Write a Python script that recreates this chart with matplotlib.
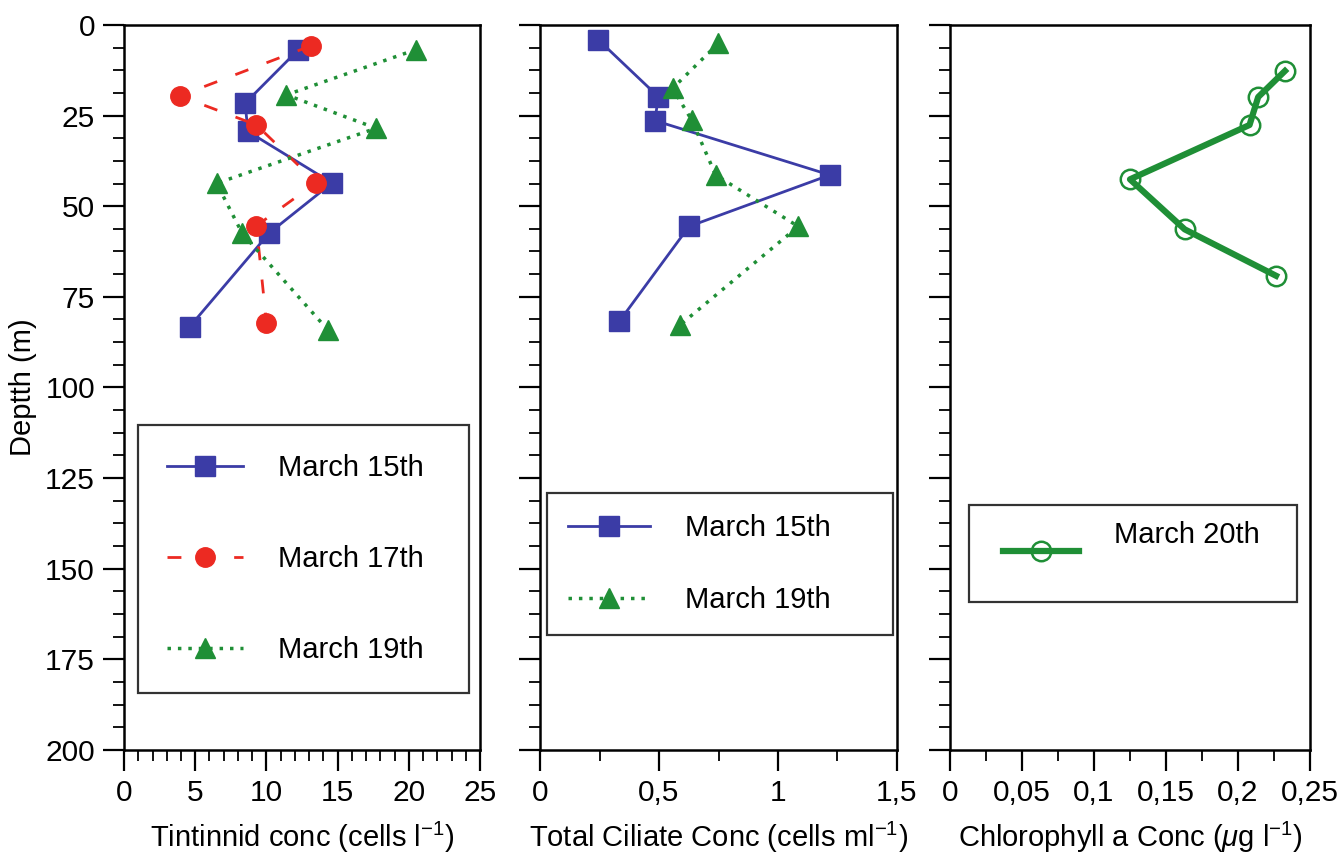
import matplotlib
matplotlib.use("Agg")
import matplotlib.pyplot as plt
from matplotlib.ticker import MultipleLocator

plt.rcParams['font.family'] = ['Liberation Sans', 'DejaVu Sans']
plt.rcParams['mathtext.fontset'] = 'custom'
plt.rcParams['mathtext.rm'] = 'Liberation Sans'
plt.rcParams['mathtext.it'] = 'Liberation Sans:italic'

# Tintinnid concentration (cells l-1) vs depth (m)
tin_d15 = [7, 21.6, 29.4, 43.6, 57.4, 83.3]
tin_15 = [12.2, 8.5, 8.7, 14.6, 10.2, 4.6]
tin_d17 = [5.8, 19.6, 27.6, 43.5, 55.4, 82.3]
tin_17 = [13.1, 3.9, 9.3, 13.5, 9.3, 10.0]
tin_d19 = [6.8, 19.3, 28.5, 43.7, 57.5, 84.1]
tin_19 = [20.5, 11.4, 17.7, 6.5, 8.3, 14.3]

# Total ciliate concentration (cells ml-1)
cil_d15 = [4.1, 19.8, 26.4, 41.4, 55.6, 81.8]
cil_15 = [0.245, 0.497, 0.483, 1.218, 0.626, 0.333]
cil_d19 = [5.1, 17.5, 26.2, 41.4, 55.6, 82.8]
cil_19 = [0.749, 0.557, 0.637, 0.738, 1.085, 0.588]

# Chlorophyll a (ug l-1)
chl_d20 = [12.7, 19.9, 27.6, 42.6, 56.4, 69.2]
chl_20 = [0.2326, 0.214, 0.208, 0.125, 0.163, 0.2264]

ylabels_depth = ['0', '25', '50', '75', '100', '125', '150', '175', '200']
xt1 = ['0', '5', '10', '15', '20', '25']
xt2 = ['0', '0,5', '1', '1,5']
xt3 = ['0', '0,05', '0,1', '0,15', '0,2', '0,25']

BLUE = '#3b3ca6'
RED = '#ec2a22'
GREEN = '#1f8f36'
FS = 21

fig = plt.figure(figsize=(13.41, 8.59), dpi=100)
ax1 = fig.add_axes([0.0925, 0.127, 0.2655, 0.844])
ax2 = fig.add_axes([0.4027, 0.127, 0.2662, 0.844])
ax3 = fig.add_axes([0.7084, 0.127, 0.2685, 0.844])


def style(ax, xmax, xmajor, xminor, xlabels):
    ax.set_xlim(0, xmax)
    ax.set_ylim(200, 0)
    ax.xaxis.set_major_locator(MultipleLocator(xmajor))
    ax.xaxis.set_minor_locator(MultipleLocator(xminor))
    ax.set_xticks([i * xmajor for i in range(len(xlabels))])
    ax.set_xticklabels(xlabels)
    ax.yaxis.set_major_locator(MultipleLocator(25))
    ax.yaxis.set_minor_locator(MultipleLocator(6.25))
    ax.tick_params(which='major', direction='out', length=15, width=1.6,
                   labelsize=21.5, pad=6)
    ax.tick_params(which='minor', direction='out', length=8, width=1.3)
    ax.tick_params(top=False, right=False, which='both')
    for s in ax.spines.values():
        s.set_linewidth(1.8)


style(ax1, 25, 5, 1, xt1)
style(ax2, 1.5, 0.5, 0.25, xt2)
style(ax3, 0.25, 0.05, 0.025, xt3)
ax1.set_yticks(range(0, 201, 25))
ax1.set_yticklabels(ylabels_depth)
ax2.tick_params(labelleft=False)
ax3.tick_params(labelleft=False)

# panel 1
ax1.plot(tin_15, tin_d15, color=BLUE, lw=2, marker='s', ms=14, label='March 15th')
ax1.plot(tin_17, tin_d17, color=RED, lw=2, ls=(0, (5, 7)), marker='o', ms=14,
         label='March 17th')
ax1.plot(tin_19, tin_d19, color=GREEN, lw=2.5, ls=(0, (1, 2)), marker='^', ms=14,
         label='March 19th')

# panel 2
ax2.plot(cil_15, cil_d15, color=BLUE, lw=2, marker='s', ms=14, label='March 15th')
ax2.plot(cil_19, cil_d19, color=GREEN, lw=2.5, ls=(0, (1, 2)), marker='^', ms=14,
         label='March 19th')

# panel 3
ax3.plot(chl_20, chl_d20, color=GREEN, lw=4.5, marker='o', ms=14,
         mfc='none', mec=GREEN, mew=1.8, label='March 20th')

ax1.set_ylabel('Deptth (m)', fontsize=FS)
ax1.set_xlabel(r'Tintinnid conc (cells l$^{\mathregular{-1}}$)', fontsize=FS, labelpad=9)
ax2.set_xlabel(r'Total Ciliate Conc (cells ml$^{\mathregular{-1}}$)', fontsize=FS, labelpad=9)
ax3.set_xlabel(r'Chlorophyll a Conc ($\mu$g l$^{\mathregular{-1}}$)', fontsize=FS, labelpad=9)
ax1.yaxis.set_label_coords(-0.245, 0.5)

leg_kw = dict(mode='expand', fancybox=False, edgecolor='black', fontsize=FS,
              handletextpad=1.2, borderaxespad=0)
l1 = ax1.legend(loc='upper left', bbox_to_anchor=(0.039, 0.448, 0.93, 0.0),
                handlelength=2.6, labelspacing=2.16, borderpad=1.0, **leg_kw)
l2 = ax2.legend(loc='upper left', bbox_to_anchor=(0.02, 0.354, 0.969, 0.0),
                handlelength=2.8, labelspacing=1.5, borderpad=0.72, **leg_kw)
l3 = ax3.legend(loc='upper left', bbox_to_anchor=(0.053, 0.338, 0.911, 0.0),
                handlelength=2.6, labelspacing=1.0, borderpad=1.18, **leg_kw)
for lg in (l1, l2, l3):
    lg.get_frame().set_linewidth(1.6)
# the chlorophyll legend text sits above its line in the original
l3.get_texts()[0].set_y(18)

fig.savefig('out.png', dpi=100, facecolor='white')
